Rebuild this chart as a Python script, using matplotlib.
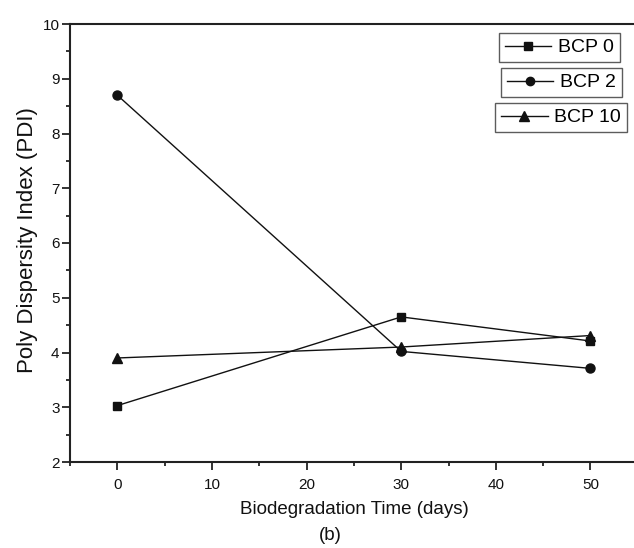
import matplotlib
matplotlib.use("Agg")
import matplotlib.pyplot as plt
from matplotlib.ticker import MultipleLocator
from matplotlib.lines import Line2D

plt.rcParams['font.family'] = ['Liberation Sans', 'DejaVu Sans']

days = [0, 30, 50]
bcp0 = [3.03, 4.65, 4.21]
bcp2 = [8.70, 4.02, 3.71]
bcp10 = [3.90, 4.10, 4.31]
labels = ["BCP 0", "BCP 2", "BCP 10"]
markers = ["s", "o", "^"]

W, H = 634, 548
fig = plt.figure(figsize=(W / 100, H / 100), dpi=100)
ax_l, ax_b, ax_t = 70, 462, 24
ax = fig.add_axes([ax_l / W, 1 - ax_b / H, 1 - ax_l / W, (ax_b - ax_t) / H])
ax_w, ax_h = W - ax_l, ax_b - ax_t

series = [bcp0, bcp2, bcp10]
msizes = [6, 6.5, 7.5]
for vals, m, ms in zip(series, markers, msizes):
    ax.plot(days, vals, color='#111111', lw=1.0, marker=m, ms=ms,
            markerfacecolor='#111111', markeredgecolor='#111111')

ax.set_xlim(-5, 54.6)
ax.set_ylim(2, 10)
ax.xaxis.set_major_locator(MultipleLocator(10))
ax.xaxis.set_minor_locator(MultipleLocator(5))
ax.yaxis.set_major_locator(MultipleLocator(1))
ax.yaxis.set_minor_locator(MultipleLocator(0.5))
ax.tick_params(which='major', direction='out', length=5.5, width=1.2, labelsize=11,
               colors='#111111', pad=2)
ax.tick_params(which='minor', direction='out', length=2.6, width=1.2, colors='#111111')
ax.tick_params(axis='x', which='major', pad=6)
for s in ['left', 'bottom', 'top']:
    ax.spines[s].set_linewidth(1.5)
    ax.spines[s].set_color('#222222')
ax.spines['right'].set_visible(False)

ax.set_xlabel("Biodegradation Time (days)", fontsize=13.5, color='#111111', va='center')
ax.xaxis.set_label_coords((354.5 - ax_l) / ax_w, (ax_b - 510) / ax_h)
ax.set_ylabel("Poly Dispersity Index (PDI)", fontsize=16, color='#111111', va='center')
ax.yaxis.set_label_coords((28 - ax_l) / ax_w, (ax_b - 240) / ax_h)
fig.text(330 / W, 1 - 535 / H, "(b)", ha='center', va='center', fontsize=13.5, color='#111111')

# three separate legend boxes
boxes = [(620, 33), (622, 68), (627, 103)]
for lab, m, ms, (bx, by) in zip(labels, markers, msizes, boxes):
    h = Line2D([], [], color='#111111', lw=1.0, marker=m, ms=ms - 0.5,
               markerfacecolor='#111111', markeredgecolor='#111111')
    leg = fig.legend([h], [lab], loc='upper right',
                     bbox_to_anchor=(bx / W, 1 - by / H),
                     bbox_transform=fig.transFigure,
                     fontsize=14, frameon=True, fancybox=False,
                     handlelength=2.4, handletextpad=0.35, borderpad=0.3,
                     borderaxespad=0)
    fr = leg.get_frame()
    fr.set_edgecolor('#333333')
    fr.set_linewidth(1.0)

fig.savefig("out.png", dpi=100)
